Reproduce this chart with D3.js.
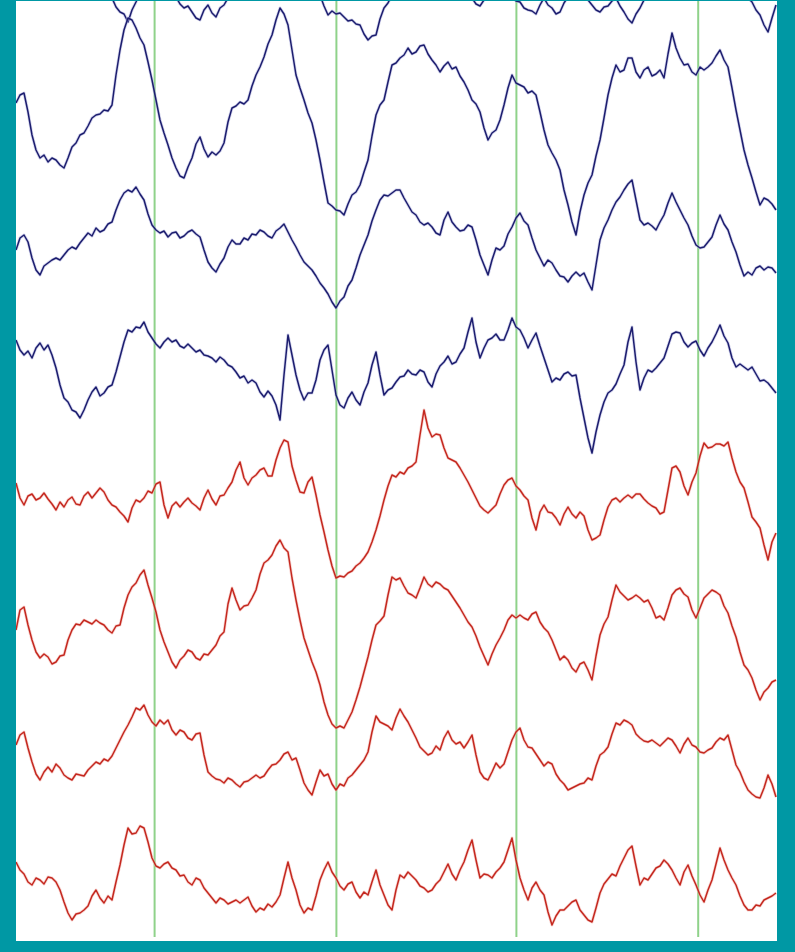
<!DOCTYPE html>
<html>
<head>
<meta charset="utf-8">
<script src="https://cdn.jsdelivr.net/npm/d3@7"></script>
<style>
  body { margin: 0; background: #0098a4; }
  svg { display: block; }
</style>
</head>
<body>
<script>
// channel order, top to bottom
const channels = ['ch1', 'ch2', 'ch3', 'ch4', 'ch5', 'ch6', 'ch7', 'ch8'];

// deflections, positive = downward (EEG "negative up")
const ch1 = [-10,-4,-5,-12,-15,-18,-25,-21,-20,-22,-18,-12,-10,-9,-5,-1,0,4,5,10,
  10,13,20,26,28,37,42,44,52,40,32,22,15,15,10,8,12,18,20,22,
  27,34,38,36,42,48,50,40,35,43,47,38,35,28,25,21,15,14,10,9,
  5,4,0,-4,-5,-1,0,3,5,9,10,13,15,19,20,21,25,36,45,41,
  44,43,47,51,50,54,55,64,70,66,65,49,38,33,25,18,15,14,10,9,
  5,9,8,13,12,12,15,19,18,16,20,25,24,23,28,34,36,30,27,26,
  20,24,22,21,26,31,32,38,40,41,44,35,28,35,38,44,42,33,27,26,
  22,27,28,30,35,40,42,37,36,31,28,36,42,49,53,44,38,30,25,20,
  15,9,5,3,0,-1,-2,1,2,4,5,7,8,9,10,12,12,14,15,18,
  20,23,25,28,32,40,45,55,62,48,35];
const ch2 = [3,-5,-7,12,35,50,58,55,62,58,60,65,68,58,47,43,35,33,26,18,
  15,14,10,11,5,-25,-50,-70,-82,-80,-72,-62,-55,-38,-20,0,20,33,45,58,
  68,76,78,67,58,44,37,49,57,52,55,51,43,22,8,6,2,4,0,-14,
  -25,-33,-43,-56,-65,-80,-92,-86,-75,-50,-25,-12,0,13,23,40,60,82,103,106,
  110,111,115,104,95,92,85,72,60,36,15,5,0,-18,-35,-37,-42,-45,-52,-46,
  -48,-54,-55,-46,-40,-35,-28,-34,-38,-31,-33,-24,-18,-10,0,4,12,28,40,33,
  30,20,5,-12,-25,-17,-15,-13,-7,-9,-5,12,30,45,53,60,70,90,105,122,
  135,112,95,83,75,56,40,18,-5,-22,-35,-28,-30,-42,-42,-28,-22,-30,-33,-24,
  -26,-30,-22,-46,-67,-52,-42,-35,-36,-28,-25,-33,-30,-33,-37,-44,-50,-40,-33,-12,
  10,30,50,65,78,92,105,98,100,104,110];
const ch3 = [20,8,5,12,28,40,45,36,33,30,28,30,25,20,17,19,13,8,3,6,
  -2,2,0,-6,-8,-20,-30,-37,-40,-38,-43,-36,-30,-16,-5,0,3,1,7,3,
  2,8,6,2,0,4,7,20,32,38,42,34,28,17,10,14,14,8,10,4,
  5,0,2,6,8,1,-2,-6,2,10,17,25,32,36,40,46,53,58,64,72,
  78,71,67,56,50,38,25,15,5,-9,-20,-30,-35,-34,-37,-40,-40,-32,-25,-18,
  -15,-8,-5,-7,-3,3,5,-10,-18,-8,-3,1,0,-5,-3,10,25,35,45,30,
  18,20,16,4,-3,-12,-17,-9,-5,8,20,28,36,30,33,40,46,47,52,46,
  42,46,43,52,60,35,10,-2,-10,-20,-28,-33,-40,-46,-50,-30,-10,-5,-7,-4,
  0,-8,-15,-27,-37,-28,-20,-12,-5,6,15,18,17,12,7,-5,-15,-6,0,12,
  22,35,46,42,45,38,36,40,37,38,43];
const ch4 = [-20,-10,-5,-9,-2,-12,-17,-10,-15,-5,8,25,38,42,50,52,58,50,40,32,
  27,36,33,27,25,12,-3,-18,-30,-28,-33,-32,-38,-28,-22,-16,-12,-18,-22,-18,
  -20,-14,-12,-16,-12,-8,-10,-5,-4,-2,2,-3,0,5,7,12,18,16,23,20,
  23,32,37,31,36,45,60,15,-25,-5,15,30,40,33,33,20,0,-10,-15,10,
  35,45,48,38,32,40,45,32,23,5,-8,15,35,30,28,22,17,16,10,14,
  15,10,12,22,27,14,6,2,-4,4,2,-6,-12,-28,-42,-18,-2,-12,-20,-22,
  -26,-20,-20,-30,-42,-33,-30,-22,-12,-20,-27,-14,-2,10,22,18,20,14,12,16,
  15,38,58,78,93,72,55,42,33,30,24,14,5,-18,-33,2,30,18,10,12,
  8,3,-2,-14,-26,-28,-27,-18,-13,-17,-19,-10,-4,-12,-18,-26,-35,-24,-17,-2,
  7,4,7,10,7,14,21,20,23,28,33];
const ch5 = [-7,8,15,6,4,10,8,3,9,14,20,12,17,10,7,14,15,6,2,8,
  3,-2,2,10,15,17,22,26,32,18,10,12,8,1,3,-6,-8,15,28,16,
  12,17,12,8,13,16,20,8,0,9,15,6,5,-2,-8,-20,-28,-12,-5,-12,
  -15,-20,-22,-14,-14,-30,-42,-50,-48,-24,-10,2,3,-8,-13,5,25,42,60,76,
  88,86,87,83,81,76,73,68,62,52,40,26,10,-4,-15,-13,-18,-16,-22,-24,
  -28,-55,-80,-62,-53,-56,-55,-42,-32,-30,-28,-22,-15,-8,0,8,16,20,23,19,
  15,4,-5,-10,-12,-4,0,6,10,28,40,22,15,22,23,28,35,24,17,24,
  28,22,26,40,50,48,45,30,17,10,8,12,8,5,8,4,4,9,13,16,
  18,24,22,0,-22,-24,-18,-4,5,-8,-17,-34,-47,-42,-43,-46,-46,-44,-48,-32,
  -18,-8,-2,12,27,32,38,55,70,52,43];
const ch6 = [10,-10,-13,5,20,32,38,34,37,44,42,36,35,20,10,4,5,0,2,4,
  0,3,5,10,13,6,5,-12,-25,-33,-37,-45,-50,-35,-22,-8,10,22,32,42,
  48,40,36,30,32,38,40,34,35,30,25,16,12,-16,-32,-20,-10,-14,-15,-22,
  -30,-46,-57,-60,-65,-74,-80,-72,-68,-42,-20,0,18,30,42,52,65,82,95,104,
  108,106,108,100,92,80,67,52,37,20,5,1,-4,-25,-43,-40,-42,-34,-27,-25,
  -22,-32,-43,-36,-33,-38,-36,-32,-30,-24,-18,-12,-5,2,7,16,27,36,45,34,
  25,18,10,0,-5,-2,-5,-2,0,-6,-8,2,8,12,20,30,40,36,40,48,
  52,44,42,50,60,36,15,4,-3,-20,-35,-28,-24,-20,-22,-25,-22,-18,-20,-12,
  -2,-4,0,-12,-25,-30,-32,-26,-23,-10,-2,-12,-22,-26,-30,-28,-25,-14,-7,6,
  17,32,45,50,58,70,80,72,68,62,60];
const ch7 = [-5,-15,-18,-2,12,24,30,22,17,22,14,18,25,28,30,24,25,26,20,16,
  12,14,9,11,6,-2,-10,-18,-25,-33,-42,-40,-45,-35,-28,-24,-30,-26,-30,-20,
  -15,-20,-18,-12,-10,-16,-17,5,22,26,29,30,33,28,30,34,37,32,31,28,
  25,28,26,20,15,14,10,4,2,10,8,20,33,40,45,32,20,26,24,34,
  40,34,36,28,25,20,15,10,2,-18,-34,-28,-26,-24,-20,-32,-41,-34,-28,-20,
  -12,-3,1,5,3,-4,0,-12,-19,-10,-6,-8,-2,-8,-15,5,22,28,30,22,
  13,18,14,2,-10,-18,-22,-10,-3,-2,4,10,16,12,14,24,30,34,40,38,
  36,34,33,28,30,16,5,2,-3,-16,-27,-25,-30,-28,-25,-16,-12,-9,-8,-10,
  -7,-4,-8,-12,-10,-4,3,-6,-12,-5,-3,2,3,0,-2,-8,-12,-10,-15,0,
  15,22,32,40,44,47,48,38,25,34,47];
const ch8 = [-18,-10,-6,2,5,-2,0,4,-3,-2,2,10,22,33,40,34,33,30,26,16,
  10,18,23,16,20,2,-15,-35,-52,-46,-47,-54,-52,-38,-22,-14,-12,-16,-18,-12,
  -10,-4,-5,2,5,-2,0,8,13,18,23,18,20,24,22,20,23,20,17,26,
  32,28,30,24,27,22,15,-2,-18,-2,10,25,33,28,30,16,0,-10,-18,-8,
  -2,6,10,4,2,12,18,12,15,2,-10,5,15,25,30,10,-5,-2,-8,-4,
  0,6,8,12,10,4,0,-8,-16,-6,0,-10,-18,-30,-40,-20,-2,-6,-5,-2,
  -8,-12,-18,-30,-42,-20,-2,10,20,8,2,10,15,32,45,36,30,30,26,22,
  20,30,35,40,42,28,13,4,-1,-6,-4,-14,-22,-30,-34,-14,5,-2,0,-6,
  -12,-14,-20,-16,-10,-2,5,-8,-15,-4,5,15,22,10,0,-16,-32,-20,-10,-2,
  5,16,25,30,30,25,26,20,18,16,13];

const traces = [ch1, ch2, ch3, ch4, ch5, ch6, ch7, ch8];
const traceColors = ['#1c1d6e', '#1c1d6e', '#1c1d6e', '#1c1d6e', '#c4281f', '#c4281f', '#c4281f', '#c4281f'];
const haloColors = ['#aeb0dc', '#aeb0dc', '#aeb0dc', '#aeb0dc', '#f2b4ae', '#f2b4ae', '#f2b4ae', '#f2b4ae'];

// one-second marks (green lines)
const markerTimes = [0.77, 1.78, 2.78, 3.79];
const sampleRate = 45;

var width = 795;
var height = 952;

var svg = d3.select('body')
  .append('svg')
  .attr('width', width)
  .attr('height', height);

// teal frame + white page
svg.append('rect')
  .attr('width', width)
  .attr('height', height)
  .attr('fill', '#0098a4');

var plotLeft = 16, plotRight = 777, plotTop = 1, plotBottom = 941;

svg.append('rect')
  .attr('x', plotLeft)
  .attr('y', plotTop)
  .attr('width', plotRight - plotLeft)
  .attr('height', plotBottom - plotTop)
  .attr('fill', '#ffffff');

svg.append('clipPath')
  .attr('id', 'plot-clip')
  .append('rect')
  .attr('x', plotLeft)
  .attr('y', plotTop)
  .attr('width', plotRight - plotLeft)
  .attr('height', plotBottom - plotTop);

var x = d3.scaleLinear()
  .domain([0, (ch1.length - 1) / sampleRate])
  .range([16, 776]);

// channel baselines
var yBase = d3.scalePoint()
  .domain(channels)
  .range([-30, 880]);

// amplitude -> pixel offset (positive plotted downward)
var amp = d3.scaleLinear()
  .domain([-100, 100])
  .range([-100, 100]);

var g = svg.append('g').attr('clip-path', 'url(#plot-clip)');

// green second markers
g.append('g')
  .selectAll('line')
  .data(markerTimes)
  .join('line')
  .attr('x1', d => x(d))
  .attr('x2', d => x(d))
  .attr('y1', plotTop)
  .attr('y2', 937)
  .attr('stroke', '#8fd28a')
  .attr('stroke-width', 2);

// traces
traces.forEach(function (values, c) {
  var base = yBase(channels[c]);
  var line = d3.line()
    .x((d, i) => x(i / sampleRate))
    .y(d => base + amp(d));

  g.append('path')
    .datum(values)
    .attr('d', line)
    .attr('fill', 'none')
    .attr('stroke', haloColors[c])
    .attr('stroke-width', 3)
    .attr('stroke-linejoin', 'round')
    .attr('opacity', 0.55);

  g.append('path')
    .datum(values)
    .attr('d', line)
    .attr('fill', 'none')
    .attr('stroke', traceColors[c])
    .attr('stroke-width', 1.5)
    .attr('stroke-linejoin', 'round');
});
</script>
</body>
</html>
